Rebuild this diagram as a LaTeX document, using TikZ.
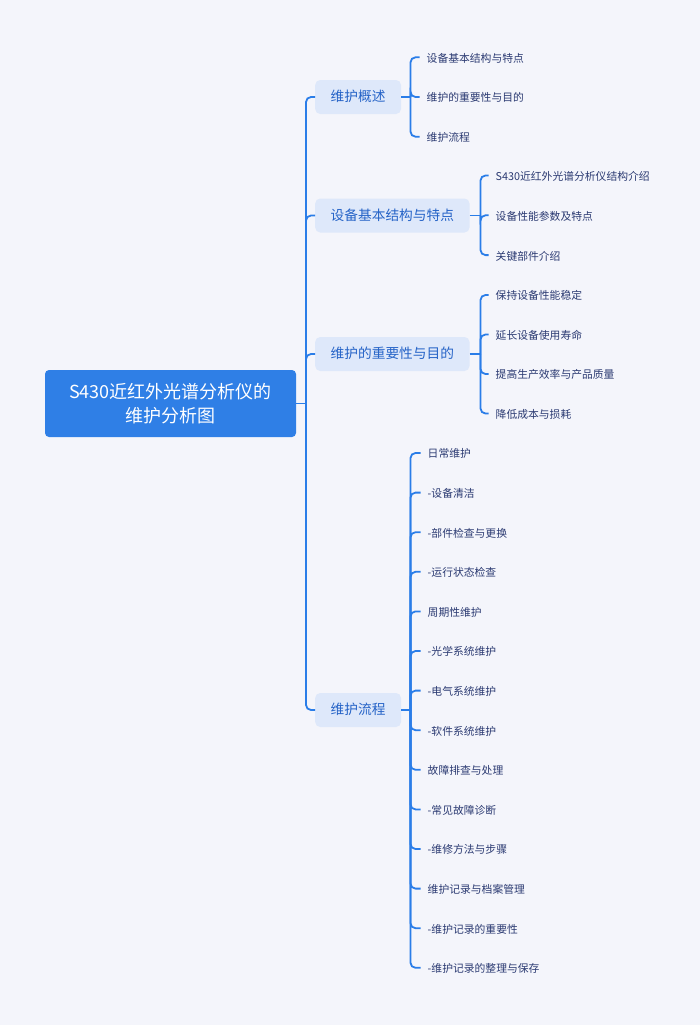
\documentclass[tikz,border=0pt]{standalone}
\usepackage{fontspec}
\setmainfont{Noto Sans CJK SC}
\definecolor{bgc}{HTML}{F4F5FB}
\definecolor{rootc}{HTML}{2F7FE6}
\definecolor{boxc}{HTML}{DEE8FA}
\definecolor{btext}{HTML}{2563C7}
\definecolor{ltext}{HTML}{2B3A72}
\definecolor{linec}{HTML}{2A7DE8}
\tikzset{
  rootnode/.style={rectangle, rounded corners=4pt, fill=rootc, text=white, align=center,
    minimum width=251pt, minimum height=67pt, inner sep=0pt,
    font=\fontsize{18}{24}\selectfont},
  branchnode/.style={rectangle, rounded corners=5pt, fill=boxc, text=btext, anchor=west,
    inner xsep=15.5pt, inner ysep=0pt, minimum height=34pt, text height=0.95em, text depth=0.02em,
    font=\fontsize{13.7}{16}\selectfont},
  leafnode/.style={anchor=west, inner sep=0pt, text=ltext, text height=0.98em, text depth=0pt,
    font=\fontsize{10.8}{13}\selectfont},
  conn/.style={draw=linec, line width=1.8pt},
  elbow/.style={draw=linec, line width=1.8pt, rounded corners=5pt},
}
\begin{document}
\begin{tikzpicture}[x=1pt,y=-1pt]
\fill[bgc] (0,0) rectangle (700,1025);
\useasboundingbox (0,0) rectangle (700,1025);

\node[rootnode] (root) at (170.5,403.5) {S430近红外光谱分析仪的\\维护分析图};

\node[branchnode] (b1) at (315,97) {维护概述};
\node[branchnode] (b2) at (315,215.5) {设备基本结构与特点};
\node[branchnode] (b3) at (315,354) {维护的重要性与目的};
\node[branchnode] (b4) at (315,710) {维护流程};

\coordinate (t) at (306,403.5);
\draw[conn] (root.east) -- (t);
\foreach \b in {b1,b2,b3,b4}{
  \draw[elbow] (t) |- (\b.west);
}

% branch 1
\coordinate (j1) at (410.5,97);
\draw[conn] (b1.east) -- (j1);
\foreach \t [count=\i] in {设备基本结构与特点,维护的重要性与目的,维护流程}{
  \node[leafnode] (l1\i) at (426.5,{57.3+(\i-1)*39.7}) {\t};
  \draw[elbow] (j1) |- ([xshift=-7pt]l1\i.west);
}

% branch 2
\coordinate (j2) at (480.5,215.5);
\draw[conn] (b2.east) -- (j2);
\foreach \t [count=\i] in {S430近红外光谱分析仪结构介绍,设备性能参数及特点,关键部件介绍}{
  \node[leafnode] (l2\i) at (495.5,{175.5+(\i-1)*39.8}) {\t};
  \draw[elbow] (j2) |- ([xshift=-7pt]l2\i.west);
}

% branch 3
\coordinate (j3) at (480.5,354);
\draw[conn] (b3.east) -- (j3);
\foreach \t [count=\i] in {保持设备性能稳定,延长设备使用寿命,提高生产效率与产品质量,降低成本与损耗}{
  \node[leafnode] (l3\i) at (495.5,{295+(\i-1)*39.5}) {\t};
  \draw[elbow] (j3) |- ([xshift=-7pt]l3\i.west);
}

% branch 4
\coordinate (j4) at (410.5,710);
\draw[conn] (b4.east) -- (j4);
\foreach \t [count=\i] in {日常维护,-设备清洁,-部件检查与更换,-运行状态检查,周期性维护,-光学系统维护,-电气系统维护,-软件系统维护,故障排查与处理,-常见故障诊断,-维修方法与步骤,维护记录与档案管理,-维护记录的重要性,-维护记录的整理与保存}{
  \node[leafnode] (l4\i) at (427.5,{453+(\i-1)*39.6}) {\t};
  \draw[elbow] (j4) |- ([xshift=-7pt]l4\i.west);
}
\end{tikzpicture}
\end{document}
